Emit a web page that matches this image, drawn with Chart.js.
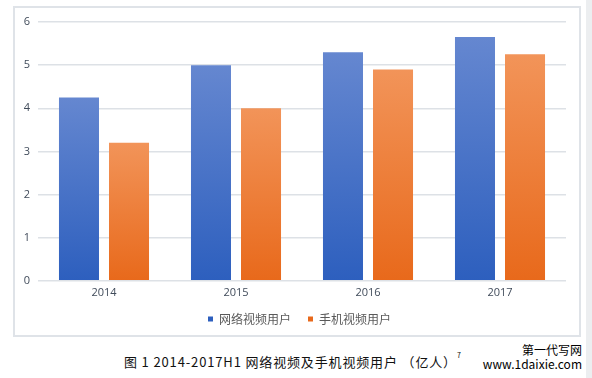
<!DOCTYPE html>
<html><head><meta charset="utf-8">
<script src="https://cdn.jsdelivr.net/npm/chart.js@4"></script>
<style>
html,body{margin:0;padding:0;background:#fff;width:592px;height:378px;overflow:hidden;}
#wrap{position:absolute;left:0;top:0;width:592px;height:340px;}
#cap{position:absolute;left:124px;top:352px;font-family:"Noto Sans CJK SC";font-size:13px;color:#111;white-space:nowrap;letter-spacing:0.85px;}
#cap sup{font-size:7px;vertical-align:top;position:relative;top:-2px;}
#wm{position:absolute;right:10px;top:343px;font-family:"Noto Sans CJK SC";font-size:12px;line-height:14px;color:#000;text-align:right;}
#shadow{position:absolute;left:586px;top:0;width:6px;height:378px;background:#eceef0;}
</style></head>
<body>
<div id="wrap"><canvas id="c" width="592" height="340"></canvas></div>
<div id="shadow"></div>
<div id="cap">图 1 2014-2017H1 网络视频及手机视频用户 （亿人）<sup>7</sup></div>
<div id="wm">第一代写网<br>www.1daixie.com</div>
<script>
const categories = ["2014", "2015", "2016", "2017"];
const seriesNames = ["网络视频用户", "手机视频用户"];
const webVideo = [4.25, 5.0, 5.3, 5.65];
const mobileVideo = [3.2, 4.0, 4.9, 5.25];
const yTicks = [0, 1, 2, 3, 4, 5, 6];

function grad(top, bottom) {
  return function(ctx) {
    const chart = ctx.chart;
    if (!chart.chartArea || ctx.type !== 'data') return bottom;
    const y = chart.scales.y;
    const v = ctx.raw;
    const yt = y.getPixelForValue(v), yb = y.getPixelForValue(0);
    const g = chart.ctx.createLinearGradient(0, yt, 0, yb);
    g.addColorStop(0, top);
    g.addColorStop(1, bottom);
    return g;
  };
}

const boxPlugin = {
  id: 'box',
  afterLayout(chart) {
    if (chart.legend) { chart.legend.left += 10; chart.legend.right += 10; }
  },
  beforeDraw(chart) {
    const c = chart.ctx;
    c.save();
    c.strokeStyle = '#dfe3e8';
    c.lineWidth = 2;
    c.strokeRect(14, 7, 566, 329);
    c.restore();
  }
};

new Chart(document.getElementById('c'), {
  type: 'bar',
  data: {
    labels: categories,
    datasets: [
      { label: seriesNames[0], data: webVideo, backgroundColor: grad('#6587d0', '#2d5fbe'),
        borderWidth: 0, categoryPercentage: 0.758, barPercentage: 0.8 },
      { label: seriesNames[1], data: mobileVideo, backgroundColor: grad('#f29459', '#e8691b'),
        borderWidth: 0, categoryPercentage: 0.758, barPercentage: 0.8 }
    ]
  },
  options: {
    responsive: false,
    animation: false,
    layout: { padding: { left: 13, right: 26, top: 22, bottom: 5 } },
    plugins: {
      tooltip: { enabled: false },
      legend: {
        position: 'bottom',
        labels: {
          usePointStyle: true, pointStyle: 'rect', boxWidth: 5, boxHeight: 5,
          color: '#595959', font: { family: 'Noto Sans CJK SC', size: 12 }, padding: 17
        }
      }
    },
    scales: {
      x: {
        grid: { display: false },
        border: { display: false },
        ticks: { color: '#404b5a', font: { family: 'Open Sans', size: 11 }, padding: -3 }
      },
      y: {
        min: 0, max: 6,
        afterFit(s) { s.width = 25; },
        afterBuildTicks(s) { s.ticks = yTicks.map(v => ({ value: v })); },
        grid: { color: '#dde1e6', lineWidth: 1.5, drawTicks: false },
        border: { display: false },
        ticks: { color: '#404b5a', font: { family: 'Open Sans', size: 11 }, padding: 8 }
      }
    }
  },
  plugins: [boxPlugin]
});
</script>
</body></html>
